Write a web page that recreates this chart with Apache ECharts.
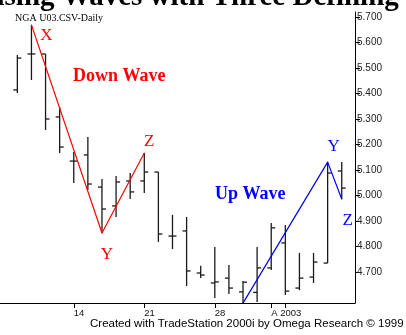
<!DOCTYPE html>
<html>
<head>
<meta charset="utf-8">
<script src="https://cdn.jsdelivr.net/npm/echarts@6/dist/echarts.min.js"></script>
<style>
html,body{margin:0;padding:0;background:#fff;}
#chart{width:406px;height:335px;}
</style>
</head>
<body>
<div id="chart"></div>
<script>
// ---- data ----
const dates = ['2003-07-08','2003-07-09','2003-07-10','2003-07-11','2003-07-14','2003-07-15','2003-07-16','2003-07-17',
  '2003-07-18','2003-07-21','2003-07-22','2003-07-23','2003-07-24','2003-07-25','2003-07-28','2003-07-29',
  '2003-07-30','2003-07-31','2003-08-01','2003-08-04','2003-08-05','2003-08-06','2003-08-07','2003-08-08'];
const opens  = [5.414,5.555,5.555,5.308,5.135,5.159,5.033,4.959,5.057,5.057,5.092,4.841,4.861,4.696,4.657,4.676,4.622,4.620,4.716,4.814,4.637,4.680,4.735,5.096];
const highs  = [5.551,5.669,5.555,5.347,5.171,5.229,5.065,5.076,5.088,5.167,5.092,4.924,4.916,4.724,4.798,4.727,4.665,4.798,4.892,4.884,4.775,4.775,5.131,5.131];
const lows   = [5.402,5.453,5.257,5.167,5.049,5.022,4.853,4.916,4.986,5.010,4.818,4.790,4.645,4.676,4.598,4.614,4.578,4.582,4.708,4.610,4.629,4.657,4.735,4.986];
const closes = [5.539,5.555,5.300,5.190,5.135,5.045,4.947,5.053,5.014,5.092,4.849,4.841,4.704,4.688,4.661,4.637,4.660,4.716,4.873,4.625,4.676,4.739,5.088,5.029];

const yTicks = [4.7,4.8,4.9,5.0,5.1,5.2,5.3,5.4,5.5,5.6,5.7];
const xTickIdx = [4,9,14,18,19];
const xLabelIdx = [4,9,14,18];
const xLabelText = ['14','21','28','A 2003'];

const waveLabels = ['X','Y','Z'];
const downWaveIdx = [1,6,9];
const downWavePrice = [5.669,4.853,5.167];
const upWaveIdx = [16,22,23];
const upWavePrice = [4.578,5.131,4.986];

// ---- build ----
const ohlc = dates.map((d,i)=>[i,opens[i],highs[i],lows[i],closes[i]]);
const downOffsets = [[15,11],[5,22],[5,-11]];
const upOffsets = [[6,-46],[6,-16],[6,21]];
function waveData(idx, price, offs){
  return idx.map((x,i)=>({value:[x,price[i]], name:waveLabels[i], label:{offset:offs[i]}}));
}
function xLabel(v){
  for (let k=0;k<xLabelIdx.length;k++){ if (Math.abs(xLabelIdx[k]-v)<1e-6) return xLabelText[k]; }
  return '';
}

const chart = echarts.init(document.getElementById('chart'), null, {renderer:'canvas'});
const barColor = '#1a1a1a';
chart.setOption({
  animation:false,
  backgroundColor:'#ffffff',
  grid:{left:0,right:51,top:12,bottom:32},
  xAxis:{
    type:'value', min:-1.23, max:23.94,
    splitLine:{show:false},
    axisLine:{show:true, onZero:false, lineStyle:{color:'#000',width:1}},
    axisTick:{show:true, customValues:xTickIdx, length:5, lineStyle:{color:'#000'}},
    axisLabel:{show:true, customValues:xLabelIdx, align:'left', margin:5, hideOverlap:false,
      fontFamily:'Liberation Sans', fontSize:9.5, color:'#111',
      formatter:xLabel}
  },
  yAxis:{
    type:'value', position:'right', min:4.5784, max:5.7196, scale:true,
    splitLine:{show:false},
    axisLine:{show:true, onZero:false, lineStyle:{color:'#000',width:1}},
    axisTick:{show:true, customValues:yTicks, length:5, inside:false, lineStyle:{color:'#000'}},
    axisLabel:{show:true, customValues:yTicks, margin:2, fontFamily:'Liberation Sans', fontSize:10, color:'#222',
      formatter:(v)=>v.toFixed(3)}
  },
  graphic:[
    {type:'text', left:-47, top:-17, style:{text:'Chasing Waves with Three Defining Points', font:'bold 29px "Liberation Serif"', fill:'#000'}},
    {type:'text', left:15, top:13, style:{text:'NGA U03.CSV-Daily', font:'10px "Liberation Serif"', fill:'#000'}},
    {type:'text', left:73, top:67, style:{text:'Down Wave', font:'bold 18px "Liberation Serif"', fill:'#ff0000'}},
    {type:'text', left:215, top:185, style:{text:'Up Wave', font:'bold 18px "Liberation Serif"', fill:'#0000ff'}},
    {type:'text', left:90, top:318, style:{text:'Created with TradeStation 2000i by Omega Research \u00a9 1999', font:'11.5px "Liberation Sans"', fill:'#000'}}
  ],
  series:[
    {
      type:'custom',
      data:ohlc,
      encode:{x:0,y:[1,2,3,4]},
      renderItem:(params, api)=>{
        const x = api.value(0);
        const o = api.coord([x, api.value(1)]);
        const h = api.coord([x, api.value(2)]);
        const l = api.coord([x, api.value(3)]);
        const c = api.coord([x, api.value(4)]);
        const st = {stroke:barColor, lineWidth:1.3};
        return {type:'group', children:[
          {type:'line', shape:{x1:h[0],y1:h[1],x2:l[0],y2:l[1]}, style:st},
          {type:'line', shape:{x1:o[0]-4,y1:o[1],x2:o[0],y2:o[1]}, style:st},
          {type:'line', shape:{x1:c[0],y1:c[1],x2:c[0]+4,y2:c[1]}, style:st}
        ]};
      },
      z:2
    },
    {
      type:'line', data:waveData(downWaveIdx, downWavePrice, downOffsets),
      symbol:'circle', symbolSize:1, showSymbol:true,
      lineStyle:{color:'#ff0000', width:1.2}, itemStyle:{color:'#ff0000'},
      label:{show:true, position:'inside', formatter:(p)=>p.name, color:'#ff0000', fontFamily:'Liberation Serif', fontSize:17},
      z:3
    },
    {
      type:'line', data:waveData(upWaveIdx, upWavePrice, upOffsets),
      symbol:'circle', symbolSize:1, showSymbol:true,
      lineStyle:{color:'#0000ff', width:1.2}, itemStyle:{color:'#0000ff'},
      label:{show:true, position:'inside', formatter:(p)=>p.name, color:'#0000ff', fontFamily:'Liberation Serif', fontSize:17},
      z:3
    }
  ]
});
</script>
</body>
</html>
